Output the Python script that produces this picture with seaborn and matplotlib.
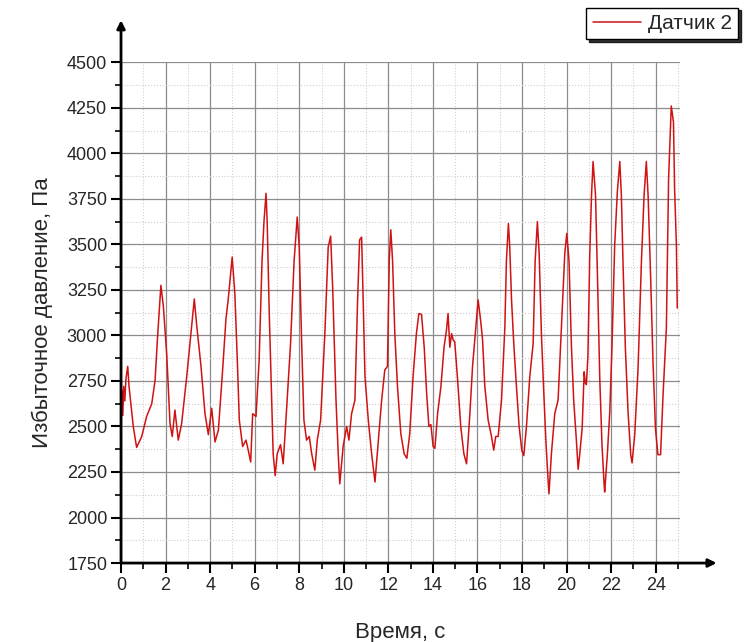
import numpy as np
import pandas as pd
import matplotlib
matplotlib.use("Agg")
import matplotlib.pyplot as plt
import seaborn as sns
from matplotlib.ticker import MultipleLocator

# time, s
time_s = [
    0.00, 0.04, 0.08, 0.12, 0.17, 0.22, 0.30, 0.36, 0.55, 0.70, 0.93, 1.15, 1.38, 1.53, 1.64, 1.79,
    1.90, 2.05, 2.20, 2.30, 2.42, 2.57, 2.72, 2.95, 3.14, 3.29, 3.39, 3.59, 3.77, 3.92, 4.07, 4.22,
    4.37, 4.55, 4.71, 4.81, 4.99, 5.11, 5.22, 5.31, 5.46, 5.61, 5.71, 5.82, 5.91, 6.06, 6.20, 6.33,
    6.42, 6.51, 6.56, 6.65, 6.76, 6.83, 6.92, 7.01, 7.16, 7.28, 7.43, 7.61, 7.77, 7.91, 8.00, 8.11,
    8.21, 8.33, 8.45, 8.56, 8.70, 8.81, 8.96, 9.15, 9.30, 9.41, 9.50, 9.65, 9.75, 9.82, 9.97, 10.13,
    10.23, 10.35, 10.50, 10.62, 10.71, 10.80, 10.87, 10.95, 11.10, 11.25, 11.40, 11.54, 11.70, 11.84,
    11.96, 12.04, 12.11, 12.19, 12.29, 12.41, 12.56, 12.71, 12.83, 12.96, 13.11, 13.26, 13.37, 13.49,
    13.61, 13.72, 13.82, 13.91, 14.01, 14.09, 14.21, 14.36, 14.50, 14.61, 14.68, 14.76, 14.84, 14.91,
    14.98, 15.11, 15.25, 15.39, 15.51, 15.66, 15.78, 15.88, 16.03, 16.14, 16.23, 16.33, 16.48, 16.63,
    16.73, 16.82, 16.93, 17.08, 17.23, 17.30, 17.39, 17.45, 17.53, 17.63, 17.75, 17.87, 17.99, 18.08,
    18.20, 18.35, 18.50, 18.59, 18.69, 18.77, 18.87, 18.98, 19.07, 19.17, 19.21, 19.32, 19.47, 19.62,
    19.77, 19.92, 20.01, 20.11, 20.22, 20.32, 20.44, 20.52, 20.59, 20.70, 20.79, 20.84, 20.89, 20.96,
    21.04, 21.12, 21.19, 21.30, 21.39, 21.49, 21.59, 21.68, 21.71, 21.83, 21.94, 22.04, 22.16, 22.28,
    22.39, 22.46, 22.54, 22.64, 22.76, 22.88, 22.94, 23.06, 23.21, 23.36, 23.48, 23.58, 23.66, 23.78,
    23.88, 23.99, 24.10, 24.22, 24.33, 24.48, 24.58, 24.70, 24.80, 24.85, 24.93, 24.97,
]

# gauge pressure, Pa
pressure_pa = [
    2600, 2700, 2560, 2720, 2640, 2760, 2830, 2720, 2500, 2385, 2445, 2555, 2625, 2755, 2990, 3275,
    3160, 2900, 2515, 2445, 2590, 2425, 2515, 2775, 3010, 3200, 3065, 2830, 2570, 2455, 2600, 2415,
    2480, 2790, 3090, 3195, 3430, 3230, 2865, 2535, 2390, 2425, 2370, 2305, 2570, 2555, 2865, 3410,
    3630, 3780, 3630, 3140, 2645, 2350, 2230, 2350, 2400, 2295, 2590, 2955, 3410, 3650, 3485, 2955,
    2535, 2425, 2445, 2350, 2260, 2425, 2535, 3010, 3485, 3545, 3265, 2645, 2350, 2185, 2390, 2500,
    2425, 2570, 2645, 3195, 3525, 3540, 3195, 2775, 2535, 2350, 2195, 2405, 2645, 2810,
    2830, 3410, 3580, 3410, 3010, 2720, 2460, 2350, 2325, 2460, 2775, 3010, 3120, 3115,
    2935, 2680, 2500, 2510, 2390, 2380, 2570, 2720, 2935, 3030, 3120, 2935, 3010, 2975,
    2965, 2755, 2500, 2350, 2295, 2570, 2830, 2975, 3195, 3085, 2975, 2720, 2535, 2445,
    2370, 2445, 2445, 2645, 3045, 3410, 3615, 3485, 3195, 2955, 2720, 2500, 2370, 2340,
    2500, 2775, 2955, 3410, 3625, 3450, 3010, 2680, 2425, 2205, 2130, 2350, 2570, 2645,
    3045, 3450, 3560, 3410, 2935, 2645, 2425, 2265, 2345, 2490, 2800, 2740, 2730, 2890,
    3440, 3770, 3955, 3770, 3310, 2765, 2400, 2195, 2140, 2345, 2580, 2945, 3495, 3790,
    3955, 3770, 3370, 2930, 2580, 2345, 2300, 2455, 2820, 3405, 3770, 3955, 3770, 3295,
    2855, 2490, 2345, 2345, 2670, 3040, 3860, 4260, 4170, 3805, 3495, 3150,
]

x_ticks = [0, 2, 4, 6, 8, 10, 12, 14, 16, 18, 20, 22, 24]
y_ticks = [1750, 2000, 2250, 2500, 2750, 3000, 3250, 3500, 3750, 4000, 4250, 4500]

df = pd.DataFrame({"t": time_s, "p": pressure_pa})

sns.set_theme(style="white")
plt.rcParams["font.family"] = ["Liberation Sans", "DejaVu Sans"]

fig = plt.figure(figsize=(7.54, 6.42), dpi=100)
ax = fig.add_axes([0.1605, 0.123, 0.741, 0.780])

sns.lineplot(data=df, x="t", y="p", ax=ax, color="#d01212", linewidth=1.1,
             label="Датчик 2", legend=False)

ax.set_xlim(0, 25.08)
ax.set_ylim(1750, 4500)
ax.set_xticks(x_ticks)
ax.set_yticks(y_ticks)
ax.xaxis.set_minor_locator(MultipleLocator(1))
ax.yaxis.set_minor_locator(MultipleLocator(125))

ax.grid(which="major", color="#8c8c8c", linestyle="-", linewidth=0.9)
ax.grid(which="minor", color="#cfcfcf", linestyle=":", linewidth=0.8)
ax.set_axisbelow(True)

for s in ax.spines.values():
    s.set_visible(False)

# axes drawn as arrows like the original
ax.annotate("", xy=(0, 1.084), xytext=(0, 0), xycoords="axes fraction",
            arrowprops=dict(arrowstyle="-|>", color="black", lw=2, mutation_scale=12,
                            shrinkA=0, shrinkB=0), annotation_clip=False)
ax.annotate("", xy=(1.066, 0), xytext=(0, 0), xycoords="axes fraction",
            arrowprops=dict(arrowstyle="-|>", color="black", lw=2, mutation_scale=12,
                            shrinkA=0, shrinkB=0), annotation_clip=False)

ax.tick_params(axis="both", which="major", direction="out", length=7, width=1.5,
               color="black", labelsize=13, pad=3, left=True, bottom=True)
ax.tick_params(axis="both", which="minor", direction="out", length=4, width=1.2,
               color="black", left=True, bottom=True)

ax.set_xlabel("Время, с", fontsize=16, labelpad=20)
ax.set_ylabel("Избыточное давление, Па", fontsize=16, labelpad=10)

handles, labels = ax.get_legend_handles_labels()
fig.legend(handles, labels, loc="upper right", bbox_to_anchor=(0.979, 0.988),
           fontsize=15, frameon=True, fancybox=False, edgecolor="black",
           shadow={"color": "black", "alpha": 0.8}, handlelength=2.3,
           borderpad=0.3, handletextpad=0.35, borderaxespad=0)

fig.savefig("out.png", dpi=100)
